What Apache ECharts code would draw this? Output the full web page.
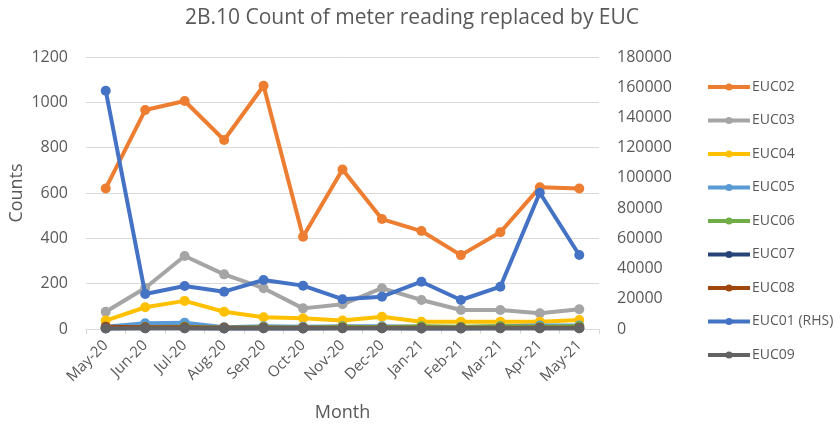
<!DOCTYPE html>
<html>
<head>
<meta charset="utf-8">
<script src="https://cdn.jsdelivr.net/npm/echarts@6/dist/echarts.min.js"></script>
<style>
  html, body { margin: 0; padding: 0; background: #fff; }
  #chart { width: 840px; height: 430px; }
</style>
</head>
<body>
<div id="chart"></div>
<script>
// Monthly counts of meter readings replaced, per EUC
const months = ['May-20','Jun-20','Jul-20','Aug-20','Sep-20','Oct-20','Nov-20','Dec-20','Jan-21','Feb-21','Mar-21','Apr-21','May-21'];

const euc02 = [620, 966, 1006, 834, 1073, 407, 704, 485, 432, 326, 427, 625, 620];
const euc03 = [76, 181, 322, 241, 180, 91, 109, 180, 128, 84, 84, 69, 87];
const euc04 = [37, 96, 124, 76, 52, 47, 37, 54, 32, 32, 32, 32, 40];
const euc05 = [10, 25, 28, 8, 12, 10, 12, 12, 10, 8, 12, 15, 15];
const euc06 = [6, 8, 10, 6, 8, 6, 10, 8, 12, 10, 12, 10, 12];
const euc07 = [2, 3, 3, 2, 3, 2, 3, 3, 2, 2, 3, 3, 3];
const euc08 = [10, 8, 8, 6, 6, 5, 6, 6, 5, 5, 6, 6, 6];
const euc01 = [157700, 23200, 28500, 24700, 32400, 28700, 19700, 21400, 31300, 19200, 28000, 90200, 49000];
const euc09 = [3, 3, 3, 3, 3, 3, 3, 3, 3, 3, 3, 3, 3];

const leftTicks = { min: 0, max: 1200, interval: 200 };
const rightTicks = { min: 0, max: 180000, interval: 20000 };

const FONT = '"Open Sans", "Liberation Sans", sans-serif';
const GREY = '#595959';

function line(name, data, color, axisIndex, z) {
  return {
    name, type: 'line', data, yAxisIndex: axisIndex,
    symbol: 'circle', symbolSize: 10,
    lineStyle: { width: 4, color },
    itemStyle: { color },
    z: z,
    animation: false
  };
}

const plain = v => String(v);

const chart = echarts.init(document.getElementById('chart'), null, { renderer: 'canvas' });
chart.setOption({
  backgroundColor: '#ffffff',
  textStyle: { fontFamily: FONT },
  title: {
    text: '2B.10 Count of meter reading replaced by EUC',
    left: 407, top: 3, textAlign: 'center',
    textStyle: { fontFamily: FONT, fontSize: 21, fontWeight: 'normal', color: GREY }
  },
  legend: {
    orient: 'vertical',
    left: 701, top: 75,
    itemWidth: 42, itemHeight: 9, itemGap: 19.5,
    lineStyle: { width: 4 },
    textStyle: { fontFamily: FONT, fontSize: 14, color: GREY, padding: [0, 0, 0, -3] },
    data: ['EUC02','EUC03','EUC04','EUC05','EUC06','EUC07','EUC08','EUC01 (RHS)','EUC09']
  },
  grid: { left: 86, right: 241, top: 57, bottom: 101, containLabel: false, outerBoundsMode: 'none' },
  xAxis: {
    type: 'category',
    data: months,
    boundaryGap: true,
    name: 'Month', nameLocation: 'middle', nameGap: 75, nameMoveOverlap: false,
    nameTextStyle: { fontFamily: FONT, fontSize: 18, color: GREY },
    axisLine: { lineStyle: { color: '#d9d9d9', width: 1 } },
    axisTick: { show: true, lineStyle: { color: '#d9d9d9' }, length: 5 },
    axisLabel: { rotate: 45, color: GREY, fontSize: 15, fontFamily: FONT, margin: 14 }
  },
  yAxis: [
    {
      type: 'value', min: leftTicks.min, max: leftTicks.max, interval: leftTicks.interval,
      name: 'Counts', nameLocation: 'middle', nameGap: 60, nameRotate: 90, nameMoveOverlap: false,
      nameTextStyle: { fontFamily: FONT, fontSize: 18, color: GREY },
      axisLine: { show: false }, axisTick: { show: false },
      axisLabel: { color: GREY, fontSize: 16, fontFamily: FONT, margin: 18, formatter: plain },
      splitLine: { lineStyle: { color: '#d9d9d9', width: 1 } }
    },
    {
      type: 'value', min: rightTicks.min, max: rightTicks.max, interval: rightTicks.interval,
      position: 'right',
      axisLine: { show: false }, axisTick: { show: false },
      axisLabel: { color: GREY, fontSize: 16, fontFamily: FONT, margin: 18, formatter: plain },
      splitLine: { show: false }
    }
  ],
  series: [
    line('EUC02', euc02, '#ED7D31', 0, 2),
    line('EUC03', euc03, '#A5A5A5', 0, 2),
    line('EUC04', euc04, '#FFC000', 0, 2),
    line('EUC05', euc05, '#5B9BD5', 0, 2),
    line('EUC06', euc06, '#70AD47', 0, 2),
    line('EUC07', euc07, '#264478', 0, 2),
    line('EUC08', euc08, '#9E480E', 0, 2),
    line('EUC01 (RHS)', euc01, '#4472C4', 1, 3),
    line('EUC09', euc09, '#636363', 0, 4)
  ]
});
</script>
</body>
</html>
